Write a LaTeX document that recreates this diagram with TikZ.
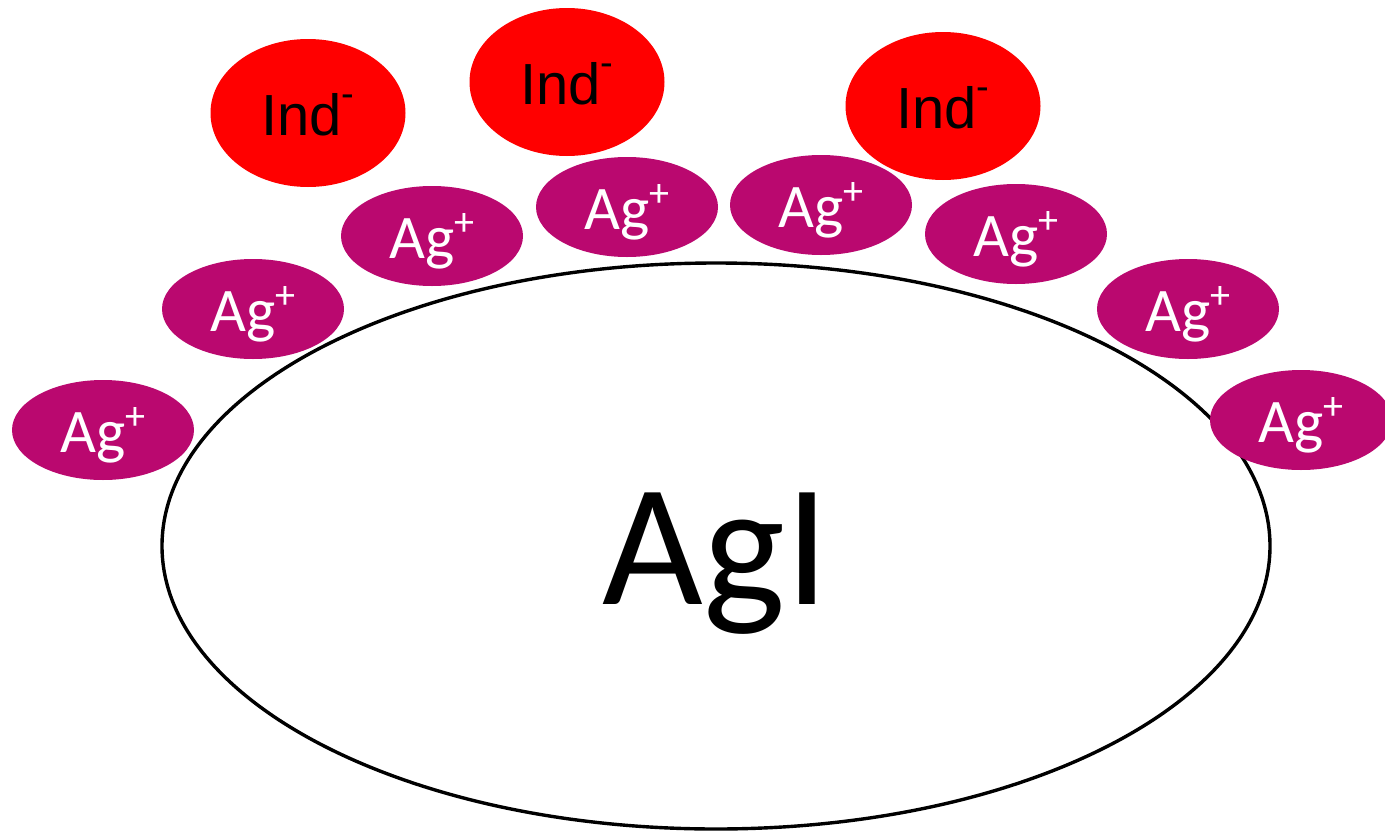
\documentclass[tikz,border=0pt]{standalone}
\usepackage{fontspec}
\setmainfont{Carlito}
\newfontfamily\indfont{Liberation Sans}
\usetikzlibrary{shapes.geometric}
\definecolor{agmag}{RGB}{186,8,111}
\definecolor{indred}{RGB}{255,0,0}
\tikzset{
  cation/.style={ellipse, fill=agmag, draw=none, inner sep=0pt,
    minimum width=182pt, minimum height=100pt, text=white,
    text height=44pt, text depth=0pt,
    font=\fontsize{62}{62}\selectfont},
  anion/.style={ellipse, fill=indred, draw=none, inner sep=0pt,
    minimum width=195pt, minimum height=148pt, text=black,
    text height=44pt, text depth=0pt,
    font=\indfont\fontsize{58}{58}\selectfont},
  core/.style={ellipse, draw=black, line width=3.4pt, fill=white, inner sep=0pt,
    minimum width=1108pt, minimum height=566pt,
    text height=116pt, text depth=0pt,
    font=\fontsize{174}{174}\selectfont}
}
\newcommand{\agp}{Ag\raisebox{0.36em}{\fontsize{40}{40}\selectfont +}}
\newcommand{\indm}{Ind\raisebox{0.5em}{\fontsize{38}{38}\selectfont -}}
\begin{document}
\begin{tikzpicture}[x=1pt,y=-1pt]
\useasboundingbox (0,0) rectangle (1385,833);
\node[core] (agi) at (716,546) {AgI};
\node[cation] (ag1) at (103,430) {\agp};
\node[cation] (ag2) at (253,309) {\agp};
\node[cation] (ag3) at (432,236) {\agp};
\node[cation] (ag4) at (627,207) {\agp};
\node[cation] (ag5) at (821,205) {\agp};
\node[cation] (ag6) at (1016,234) {\agp};
\node[cation] (ag7) at (1188,309) {\agp};
\node[cation] (ag8) at (1301,420) {\agp};
\node[anion] (ind1) at (308,113) {\indm};
\node[anion] (ind2) at (567,82) {\indm};
\node[anion] (ind3) at (943,106) {\indm};
\end{tikzpicture}
\end{document}
